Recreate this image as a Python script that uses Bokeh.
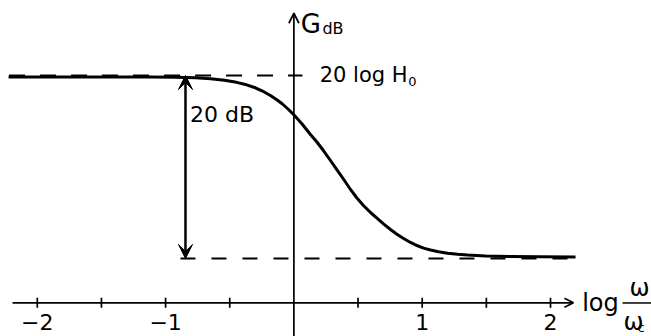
from bokeh.plotting import figure
from bokeh.models import Range1d, Arrow, OpenHead, VeeHead
from bokeh.core.properties import value
from bokeh.embed import file_html
from bokeh.resources import INLINE

# ---- data ----
log_w = [-2.224, -1.118, -0.923, -0.767, -0.650, -0.541, -0.447, -0.369, -0.307,
         -0.245, -0.183, -0.136, -0.089, -0.042, 0.005, 0.067, 0.129, 0.176,
         0.230, 0.285, 0.340, 0.394, 0.441, 0.488, 0.542, 0.597, 0.652, 0.698,
         0.753, 0.800, 0.855, 0.909, 0.964, 1.011, 1.065, 1.127, 1.198, 1.276,
         1.354, 1.494, 1.689, 1.922, 2.195]
g_db = [24.70, 24.70, 24.67, 24.62, 24.52, 24.35, 24.12, 23.85, 23.56,
        23.17, 22.68, 22.24, 21.75, 21.15, 20.49, 19.51, 18.41, 17.65,
        16.66, 15.57, 14.47, 13.38, 12.40, 11.52, 10.65, 9.88, 9.22, 8.64,
        8.02, 7.53, 7.04, 6.60, 6.24, 5.98, 5.77, 5.58, 5.43, 5.31,
        5.22, 5.12, 5.07, 5.03, 5.01]
level_high = 24.87          # 20 log H0
level_low = 4.85            # 20 dB below
major_ticks = [-2, -1, 1, 2]
major_labels = ["\u22122", "\u22121", "1", "2"]
minor_ticks = [-1.5, -0.5, 0.5, 1.5]

FONT = value("DejaVu Sans")

p = figure(width=651, height=336,
           x_range=Range1d(-2.2868, 2.7872), y_range=Range1d(-3.687, 33.075),
           output_backend="svg", toolbar_location=None,
           x_axis_type=None, y_axis_type=None, min_border=0)
p.outline_line_color = None
p.background_fill_color = "white"
p.border_fill_color = "white"

# dashed reference levels
p.line([-2.22, 0.067], [level_high, level_high], line_color="black",
       line_width=2, line_dash="16 15")
p.line([-0.884, 2.195], [level_low, level_low], line_color="black",
       line_width=2, line_dash="15 16")

# gain curve
p.line(log_w, g_db, line_color="black", line_width=3, line_join="round")

# axes drawn as arrows
p.add_layout(Arrow(end=OpenHead(size=9, line_width=1.7, line_color="black"),
                   x_start=-2.193, y_start=0, x_end=2.179, y_end=0,
                   line_width=1.7, line_color="black"))
p.add_layout(Arrow(end=OpenHead(size=10, line_width=1.7, line_color="black"),
                   x_start=0, y_start=-4.5, x_end=0, y_end=31.68,
                   line_width=1.7, line_color="black"))

# ticks
all_ticks = major_ticks + minor_ticks
p.segment(x0=all_ticks, y0=[-0.55] * len(all_ticks),
          x1=all_ticks, y1=[0.55] * len(all_ticks),
          line_color="black", line_width=1.7)
p.text(x=major_ticks, y=[-2.14] * len(major_ticks), text=major_labels,
       text_font=FONT, text_font_size="22px", text_align="center",
       text_baseline="alphabetic", text_color="black")

# 20 dB double arrow
p.add_layout(Arrow(start=VeeHead(size=14, fill_color="black", line_color="black"),
                   end=VeeHead(size=14, fill_color="black", line_color="black"),
                   x_start=-0.845, y_start=level_low, x_end=-0.845, y_end=level_high,
                   line_width=2.5, line_color="black"))
p.text(x=[-0.81], y=[20.65], text=["20 dB"], text_font=FONT,
       text_font_size="22px", text_baseline="alphabetic", text_color="black")

# 20 log H0 label
p.text(x=[0.201], y=[24.92], text=["20 log H"], text_font=FONT,
       text_font_size="21px", text_baseline="alphabetic", text_color="black")
p.text(x=[0.892], y=[24.19], text=["0"], text_font=FONT,
       text_font_size="13px", text_baseline="alphabetic", text_color="black")

# G_dB axis title
p.text(x=[0.054], y=[30.55], text=["G"], text_font=FONT,
       text_font_size="26px", text_baseline="alphabetic", text_color="black")
p.text(x=[0.222], y=[30.05], text=["dB"], text_font=FONT,
       text_font_size="16px", text_baseline="alphabetic", text_color="black")

# log(omega/omega_c) axis title
p.text(x=[2.247], y=[-0.055], text=["log"], text_font=FONT,
       text_font_size="24px", text_baseline="alphabetic", text_color="black")
p.text(x=[2.694], y=[1.66], text=["\u03c9"], text_font=FONT,
       text_font_size="24px", text_align="center", text_baseline="alphabetic",
       text_color="black")
p.segment(x0=[2.561], y0=[-0.02], x1=[2.787], y1=[-0.02],
          line_color="black", line_width=1.5)
p.text(x=[2.569], y=[-2.06], text=["\u03c9"], text_font=FONT,
       text_font_size="24px", text_baseline="alphabetic", text_color="black")
p.text(x=[2.678], y=[-2.72], text=["c"], text_font=FONT,
       text_font_size="13px", text_baseline="alphabetic", text_color="black")

open("out.html", "w").write(file_html(p, INLINE))
